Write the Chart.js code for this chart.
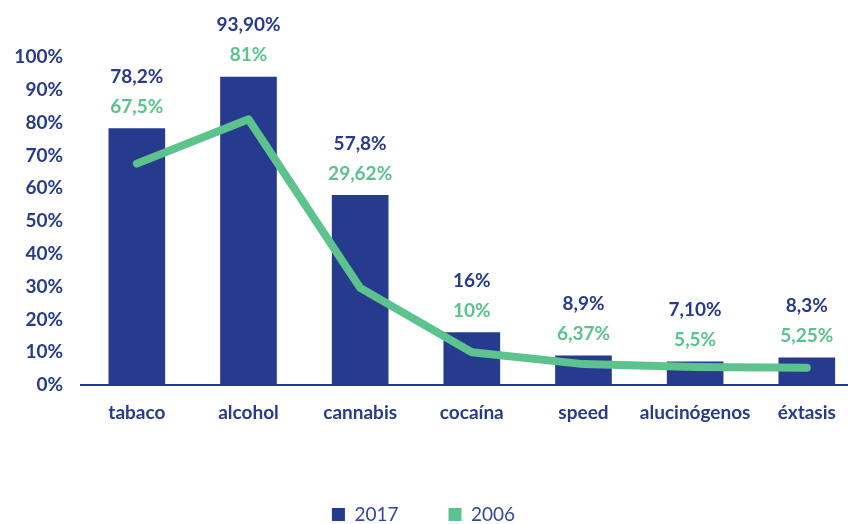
<!DOCTYPE html>
<html>
<head>
<meta charset="utf-8">
<script src="https://cdn.jsdelivr.net/npm/chart.js@4/dist/chart.umd.min.js"></script>
<style>
  html, body { margin: 0; padding: 0; background: #fff; }
  #wrap { width: 851px; height: 524px; }
</style>
</head>
<body>
<div id="wrap"><canvas id="chart"></canvas></div>
<script>
// Chart data
const categories = ['tabaco', 'alcohol', 'cannabis', 'cocaína', 'speed', 'alucinógenos', 'éxtasis'];
const values2017 = [78.2, 93.9, 57.8, 16, 8.9, 7.1, 8.3];
const values2006 = [67.5, 81, 29.62, 10, 6.37, 5.5, 5.25];
const labels2017 = ['78,2%', '93,90%', '57,8%', '16%', '8,9%', '7,10%', '8,3%'];
const labels2006 = ['67,5%', '81%', '29,62%', '10%', '6,37%', '5,5%', '5,25%'];
const yTicks = [0, 10, 20, 30, 40, 50, 60, 70, 80, 90, 100];

const NAVY = '#273b8e';
const GREEN = '#5cc28e';
const FONT = 'Lato, "Open Sans", sans-serif';

// Value labels above each bar
const valueLabels = {
    id: 'valueLabels',
    afterDatasetsDraw(chart) {
        const ctx = chart.ctx;
        const bars = chart.getDatasetMeta(0).data;
        ctx.save();
        ctx.font = 'bold 19px ' + FONT;
        ctx.textAlign = 'center';
        ctx.textBaseline = 'middle';
        bars.forEach((bar, i) => {
            ctx.fillStyle = NAVY;
            ctx.fillText(labels2017[i], bar.x, bar.y - 52);
            ctx.fillStyle = GREEN;
            ctx.fillText(labels2006[i], bar.x, bar.y - 22);
        });
        ctx.restore();
    }
};

const ctx = document.getElementById('chart').getContext('2d');

new Chart(ctx, {
    type: 'bar',
    data: {
        datasets: [{
            type: 'bar',
            label: '2017',
            data: values2017.map((v, i) => ({ x: i, y: v })),
            backgroundColor: NAVY,
            barThickness: 56,
            order: 1
        }, {
            type: 'line',
            label: '2006',
            data: values2006.map((v, i) => ({ x: i, y: v })),
            borderColor: GREEN,
            backgroundColor: GREEN,
            borderWidth: 8,
            borderCapStyle: 'round',
            borderJoinStyle: 'round',
            pointRadius: 0,
            tension: 0,
            order: 0
        }]
    },
    options: {
        responsive: true,
        maintainAspectRatio: false,
        animation: false,
        layout: {
            padding: { top: 57, left: 0, right: 4, bottom: -10 }
        },
        plugins: {
            tooltip: { enabled: false },
            legend: {
                position: 'bottom',
                labels: {
                    boxWidth: 13,
                    boxHeight: 13,
                    padding: 50,
                    color: '#34479a',
                    font: { family: FONT, size: 19 },
                    sort: (a, b) => a.datasetIndex - b.datasetIndex,
                    generateLabels: chart => chart.data.datasets.map((ds, i) => ({
                        text: ds.label,
                        fillStyle: ds.backgroundColor,
                        strokeStyle: ds.backgroundColor,
                        lineWidth: 0,
                        fontColor: '#34479a',
                        datasetIndex: i
                    }))
                }
            }
        },
        scales: {
            x: {
                type: 'linear',
                offset: false,
                min: -0.5,
                max: 6.36,
                grid: { display: false, drawTicks: false },
                border: { display: true, color: NAVY, width: 2 },
                afterBuildTicks: scale => {
                    scale.ticks = categories.map((c, i) => ({ value: i }));
                },
                afterFit: scale => {
                    scale.height = 70;
                    scale.paddingLeft = 0;
                    scale.paddingRight = 0;
                },
                ticks: {
                    padding: 16,
                    autoSkip: false,
                    maxRotation: 0,
                    minRotation: 0,
                    color: NAVY,
                    font: { family: FONT, size: 19, weight: 'bold' },
                    callback: value => categories[value]
                }
            },
            y: {
                min: 0,
                max: 100,
                grid: { display: false, drawTicks: false },
                border: { display: false },
                afterBuildTicks: scale => {
                    scale.ticks = yTicks.map(v => ({ value: v }));
                },
                afterFit: scale => { scale.width = 81; },
                ticks: {
                    padding: 18,
                    color: NAVY,
                    font: { family: FONT, size: 19, weight: 'bold' },
                    callback: value => value + '%'
                }
            }
        }
    },
    plugins: [valueLabels]
});
</script>
</body>
</html>
